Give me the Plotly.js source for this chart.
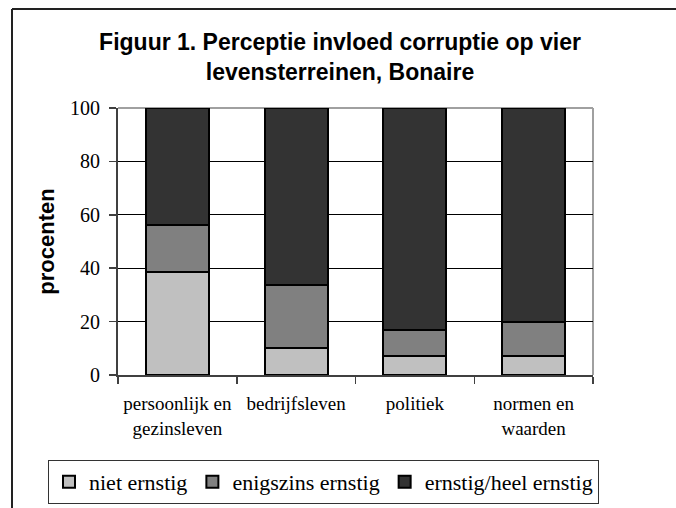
<!DOCTYPE html>
<html>
<head>
<meta charset="utf-8">
<script src="https://cdn.plot.ly/plotly-3.0.1.min.js"></script>
<style>html,body{margin:0;padding:0;background:#fff;}#chart{width:676px;height:508px;}</style>
</head>
<body>
<div id="chart"></div>
<script>
var categories = ["persoonlijk en<br>gezinsleven", "bedrijfsleven", "politiek", "normen en<br>waarden"];
var seriesNames = ["niet ernstig", "enigszins ernstig", "ernstig/heel ernstig"];
var nietErnstig = [38.5, 10.0, 7.1, 7.2];
var enigszinsErnstig = [17.7, 23.7, 9.8, 12.5];
var ernstigHeelErnstig = [43.8, 66.3, 83.1, 80.3];
var yTicks = [0, 20, 40, 60, 80, 100];

var colors = ["#c0c0c0", "#808080", "#333333"];
var values = [nietErnstig, enigszinsErnstig, ernstigHeelErnstig];

var L = 118, R = 83, T = 108, B = 133, W = 676, H = 508;
var pw = W - L - R, ph = H - T - B;
function px(x) { return (x - L) / pw; }
function py(y) { return (H - B - y) / ph; }

var traces = values.map(function (v, i) {
  return {
    type: "bar",
    name: seriesNames[i],
    x: categories,
    y: v,
    marker: { color: colors[i], line: { color: "#000", width: 2 } },
    hoverinfo: "none"
  };
});

var layout = {
  width: W, height: H,
  margin: { l: L, r: R, t: T, b: B, autoexpand: false },
  paper_bgcolor: "#fff", plot_bgcolor: "#fff",
  barmode: "stack",
  bargap: 0.47,
  showlegend: true,
  title: {
    text: "Figuur 1. Perceptie invloed corruptie op vier<br>levensterreinen, Bonaire",
    font: { family: "Liberation Sans, Arial, sans-serif", size: 23, color: "#000", weight: "bold" },
    xref: "container", x: 0.503, xanchor: "center",
    yref: "container", y: 0.902, yanchor: "top"
  },
  xaxis: {
    type: "category",
    tickson: "boundaries",
    ticks: "outside", ticklen: 7, tickwidth: 1.5, tickcolor: "#404040",
    showline: true, linecolor: "#404040", linewidth: 2,
    showgrid: false,
    ticklabelstandoff: 10,
    tickfont: { family: "Liberation Serif, Times New Roman, serif", size: 19, color: "#000" },
    fixedrange: true
  },
  yaxis: {
    range: [0, 100],
    tickvals: yTicks,
    ticktext: yTicks.map(String),
    ticks: "outside", ticklen: 7, tickwidth: 1.5, tickcolor: "#404040",
    showline: true, linecolor: "#404040", linewidth: 2,
    showgrid: true, gridcolor: "#000", gridwidth: 1,
    zeroline: false,
    ticklabelstandoff: 5,
    tickfont: { family: "Liberation Serif, Times New Roman, serif", size: 20, color: "#000" },
    title: {
      text: "procenten",
      font: { family: "Liberation Sans, Arial, sans-serif", size: 22, color: "#000", weight: "bold" },
      standoff: 9
    },
    fixedrange: true
  },
  legend: {
    orientation: "h",
    xref: "paper", yref: "paper",
    x: px(48), xanchor: "left",
    y: py(460), yanchor: "top",
    bordercolor: "#333", borderwidth: 1,
    bgcolor: "#fff",
    font: { family: "Liberation Serif, Times New Roman, serif", size: 22, color: "#000" },
    traceorder: "normal",
    itemwidth: 30
  },
  shapes: [
    { type: "line", xref: "paper", yref: "paper", x0: 0, x1: 1, y0: 1, y1: 1, layer: "between", line: { color: "#a0a0a0", width: 2 } },
    { type: "line", xref: "paper", yref: "paper", x0: 1, x1: 1, y0: 0, y1: 1, layer: "between", line: { color: "#a0a0a0", width: 2 } },
    { type: "line", xref: "paper", yref: "paper", x0: px(12), x1: px(680), y0: py(9), y1: py(9), line: { color: "#222", width: 2 } },
    { type: "line", xref: "paper", yref: "paper", x0: px(12), x1: px(12), y0: py(9), y1: py(512), line: { color: "#222", width: 2 } }
  ]
};

Plotly.newPlot("chart", traces, layout, { displayModeBar: false, staticPlot: true });
</script>
</body>
</html>
